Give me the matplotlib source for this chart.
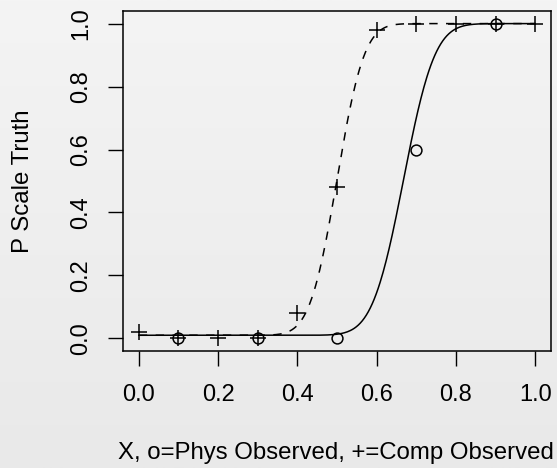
import numpy as np
import matplotlib
matplotlib.use('Agg')
import matplotlib.pyplot as plt
from matplotlib.colors import LinearSegmentedColormap
from math import erf, sqrt

plt.rcParams['font.family'] = ['Liberation Sans', 'DejaVu Sans']

# observed points
phys_x = [0.1, 0.3, 0.5, 0.7, 0.9]
phys_y = [0.0, 0.0, 0.0, 0.6, 1.0]
comp_x = [0.0, 0.1, 0.2, 0.3, 0.4, 0.5, 0.6, 0.7, 0.8, 0.9, 1.0]
comp_y = [0.02, 0.0, 0.0, 0.0, 0.08, 0.48, 0.98, 1.0, 1.0, 1.0, 1.0]

# fitted probit curves: floor, centre, spread
phys_fit = (0.01, 0.668, 0.062)
comp_fit = (0.01, 0.500, 0.054)

xticks = [0.0, 0.2, 0.4, 0.6, 0.8, 1.0]
yticks = [0.0, 0.2, 0.4, 0.6, 0.8, 1.0]


def fitted(xs, fit):
    floor, mu, sd = fit
    return np.array([floor + (1 - floor) * 0.5 * (1 + erf((v - mu) / (sd * sqrt(2)))) for v in xs])


bg = '#efefef'
fig = plt.figure(figsize=(5.57, 4.68), dpi=100, facecolor=bg)

# soft grey gradient behind everything
bgax = fig.add_axes([0, 0, 1, 1], zorder=-10)
grad = LinearSegmentedColormap.from_list('g', ['#e9e9e9', '#f4f4f4'])
bgax.imshow(np.linspace(0, 1, 256).reshape(-1, 1), aspect='auto', cmap=grad,
            origin='lower', extent=[0, 1, 0, 1])
bgax.axis('off')

ax = fig.add_axes([123 / 557, 1 - 351 / 468, 428 / 557, 340 / 468])
ax.patch.set_alpha(0)

xs = np.linspace(0, 1, 400)
ax.plot(xs, fitted(xs, phys_fit), color='black', lw=1.1)
ax.plot(xs, fitted(xs, comp_fit), color='black', lw=1.1, ls=(0, (5.5, 5.5)))

ax.plot(phys_x, phys_y, 'o', ms=7.8, mfc='none', mec='black', mew=1.1)
ax.plot(comp_x, comp_y, '+', ms=11.5, mec='black', mew=1.1)

ax.set_xlim(-0.04, 1.04)
ax.set_ylim(-0.04, 1.04)

ax.set_xticks(xticks)
ax.set_xticklabels(['%.1f' % t for t in xticks])
ax.set_yticks(yticks)
ax.set_yticklabels(['%.1f' % t for t in yticks], rotation=90, va='center')

ax.tick_params(direction='out', length=11, width=1.0, labelsize=17)
ax.tick_params(axis='x', pad=13)
ax.tick_params(axis='y', pad=11)

for s in ax.spines.values():
    s.set_linewidth(1.1)

fig.text(336 / 557, 1 - 453 / 468, 'X, o=Phys Observed, +=Comp Observed',
         ha='center', va='center', fontsize=17.3)
fig.text(23 / 557, 1 - 181 / 468, 'P Scale Truth', rotation=90,
         ha='center', va='center', fontsize=17.3)

fig.savefig('out.png', dpi=100, facecolor=bg)
